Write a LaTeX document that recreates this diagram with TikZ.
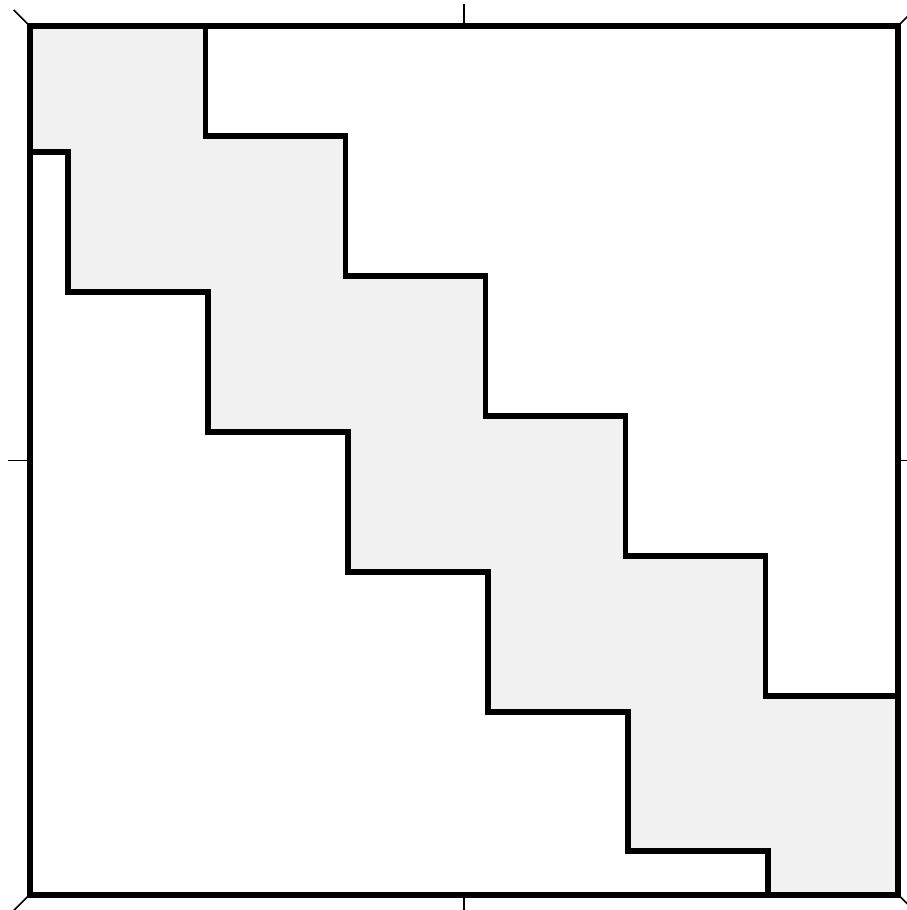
\documentclass[tikz,border=0pt]{standalone}
\definecolor{bandgray}{RGB}{241,241,241}
\tikzset{
  frameline/.style={line width=6pt, line join=miter},
  stairline/.style={line width=5.3pt, line join=miter},
  tickline/.style={line width=1.5pt},
}
\begin{document}
\begin{tikzpicture}[x=1pt,y=-1pt]
\useasboundingbox (0,0) rectangle (907,910);
\clip (0,0) rectangle (907,910);
\fill[white] (0,0) rectangle (907,910);
% corners of the frame
\coordinate (TL) at (29.7,26);
\coordinate (TR) at (898,26);
\coordinate (BL) at (29.7,894.5);
\coordinate (BR) at (898,894.5);
% shaded band
\fill[bandgray] (TL) -- (205.3,26) -- (205.3,136) -- (345.3,136) -- (345.3,276)
  -- (485.3,276) -- (485.3,416) -- (625.3,416) -- (625.3,556) -- (765.3,556)
  -- (765.3,696) -- (898,696) -- (BR) -- (768,894.5) -- (768,851) -- (628,851)
  -- (628,712) -- (488,712) -- (488,572) -- (348,572) -- (348,432) -- (208,432)
  -- (208,292) -- (68,292) -- (68,152) -- (29.7,152) -- cycle;
% upper staircase
\draw[stairline] (205.3,26) -- (205.3,136) -- (345.3,136) -- (345.3,276)
  -- (485.3,276) -- (485.3,416) -- (625.3,416) -- (625.3,556) -- (765.3,556)
  -- (765.3,696) -- (898,696);
% lower staircase
\draw[stairline] (29.7,152) -- (68,152) -- (68,292) -- (208,292) -- (208,432)
  -- (348,432) -- (348,572) -- (488,572) -- (488,712) -- (628,712)
  -- (628,851) -- (768,851) -- (768,894.5);
% frame
\draw[frameline] (TL) -- (TR) -- (BR) -- (BL) -- cycle;
% ticks
\draw[tickline] (TL) -- ++(-16,-16);
\draw[tickline] (TR) -- ++(16,-16);
\draw[tickline] (BL) -- ++(-16,16);
\draw[tickline] (BR) -- ++(16,16);
\draw[tickline] (463.9,26) -- (463.9,4);
\draw[tickline] (463.9,894.5) -- (463.9,916);
\draw[tickline] (29.7,460.5) -- (8,460.5);
\draw[tickline] (898,460.5) -- (920,460.5);
\end{tikzpicture}
\end{document}
